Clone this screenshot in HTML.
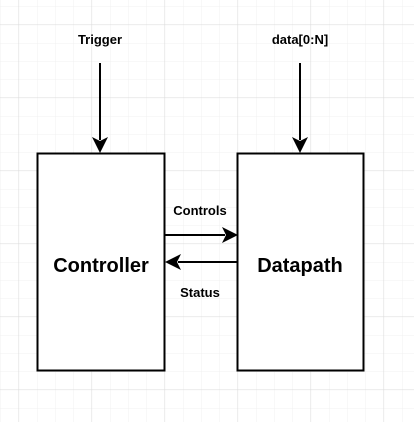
<!DOCTYPE html>
<html><head><style>
html,body{margin:0;padding:0;background:#fff;}
svg{display:block;}
text{font-family:"Comic Sans MS","Liberation Sans",sans-serif;font-weight:bold;fill:#000;}
</style></head><body>
<svg width="414" height="422" viewBox="0 0 414 422" xmlns="http://www.w3.org/2000/svg">
<defs>
<pattern id="minor" x="0.5" y="6.5" width="18.25" height="18.25" patternUnits="userSpaceOnUse">
<path d="M0 0H18.25M0 0V18.25" stroke="#f0f0f0" stroke-width="1" fill="none"/>
</pattern>
<pattern id="major" x="18.5" y="24.5" width="73" height="73" patternUnits="userSpaceOnUse">
<path d="M0 0H73M0 0V73" stroke="#dcdcdc" stroke-width="1" fill="none"/>
</pattern>
</defs>
<rect width="414" height="422" fill="url(#minor)"/>
<rect width="414" height="422" fill="url(#major)"/>

<rect x="37.5" y="153.5" width="127" height="217" fill="#fff" stroke="#000" stroke-width="2"/>
<rect x="237.5" y="153.5" width="126" height="217" fill="#fff" stroke="#000" stroke-width="2"/>

<line x1="100" y1="63" x2="100" y2="140" stroke="#000" stroke-width="2"/>
<path d="M92 137 L100 153 L108 137 L100 141 Z" fill="#000"/>
<line x1="300" y1="63" x2="300" y2="140" stroke="#000" stroke-width="2"/>
<path d="M292 137 L300 153 L308 137 L300 141 Z" fill="#000"/>

<line x1="165" y1="235" x2="225" y2="235" stroke="#000" stroke-width="2"/>
<path d="M222 227 L238 235 L222 243 L226 235 Z" fill="#000"/>
<line x1="237" y1="262" x2="178" y2="262" stroke="#000" stroke-width="2"/>
<path d="M181 254 L165 262 L181 270 L177 262 Z" fill="#000"/>

<text x="100" y="44" font-size="13" text-anchor="middle">Trigger</text>
<text x="300" y="44" font-size="13" text-anchor="middle">data[0:N]</text>
<text x="200" y="215" font-size="13" text-anchor="middle">Controls</text>
<text x="200" y="297" font-size="13" text-anchor="middle">Status</text>
<text x="101" y="272" font-size="20" text-anchor="middle">Controller</text>
<text x="300" y="272" font-size="20" text-anchor="middle">Datapath</text>
</svg>
</body></html>
